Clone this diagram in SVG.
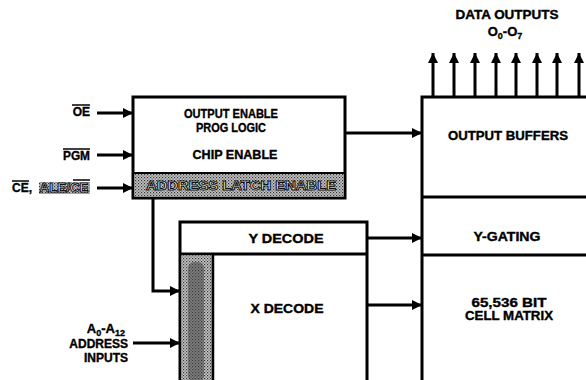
<svg xmlns="http://www.w3.org/2000/svg" width="586" height="380" viewBox="0 0 586 380">
<defs>
<pattern id="dots" width="3" height="3" patternUnits="userSpaceOnUse">
<rect width="3" height="3" fill="#c4c4c4"/>
<rect x="0" y="0" width="1.2" height="1.2" fill="#333"/>
<rect x="1.5" y="1.5" width="1.2" height="1.2" fill="#555"/>
</pattern>
<marker id="ah" viewBox="0 0 10 10" refX="10" refY="5" markerWidth="11" markerHeight="10" markerUnits="userSpaceOnUse" orient="auto">
<path d="M0,0 L10,5 L0,10 Z" fill="#000"/>
</marker>
</defs>
<style>
.t{font-family:"Liberation Sans",Arial,sans-serif;font-weight:bold;font-size:12px;fill:#000;stroke:#000;stroke-width:0.35;text-anchor:middle}
.l{font-family:"Liberation Sans",Arial,sans-serif;font-weight:bold;font-size:12px;fill:#000;stroke:#000;stroke-width:0.35;text-anchor:end}
.big{font-size:13px}
.sub{font-size:9px}
.box{fill:#fff;stroke:#000;stroke-width:3}
.c{fill:none;stroke:#000;stroke-width:3;marker-end:url(#ah)}
.ov{stroke:#000;stroke-width:1.5}
.hl{font-family:"Liberation Sans",Arial,sans-serif;font-weight:bold;font-size:12px;fill:#fff;stroke:#111;stroke-width:0.9;text-anchor:middle}
</style>
<rect width="586" height="380" fill="#fff"/>

<g id="control-logic">
<rect class="box" x="133" y="97" width="212" height="101"/>
<rect x="134.5" y="173" width="209" height="23.5" fill="url(#dots)"/>
<line x1="133" y1="173" x2="345" y2="173" stroke="#000" stroke-width="2"/>
<text class="t" x="231" y="118" textLength="94" lengthAdjust="spacingAndGlyphs">OUTPUT ENABLE</text>
<text class="t" x="231" y="132" textLength="70" lengthAdjust="spacingAndGlyphs">PROG LOGIC</text>
<text class="t" x="235" y="159" textLength="85" lengthAdjust="spacingAndGlyphs">CHIP ENABLE</text>
<text class="hl" x="241" y="190" textLength="190" lengthAdjust="spacingAndGlyphs">ADDRESS LATCH ENABLE</text>
</g>

<g id="decoders">
<rect class="box" x="180" y="222" width="187" height="170"/>
<line x1="180" y1="254" x2="367" y2="254" stroke="#000" stroke-width="3"/>
<rect x="181.5" y="255.5" width="31" height="130" fill="url(#dots)"/>
<rect x="188" y="262" width="16" height="120" rx="6" fill="#444" opacity="0.55"/>
<line x1="213" y1="254" x2="213" y2="380" stroke="#000" stroke-width="2.5"/>
<text class="t" x="286" y="243" textLength="75" lengthAdjust="spacingAndGlyphs">Y DECODE</text>
<text class="t" x="287" y="313" textLength="73" lengthAdjust="spacingAndGlyphs">X DECODE</text>
</g>

<g id="memory-array">
<rect class="box" x="422" y="97" width="180" height="300"/>
<line x1="422" y1="197" x2="586" y2="197" stroke="#000" stroke-width="3"/>
<line x1="422" y1="255" x2="586" y2="255" stroke="#000" stroke-width="3"/>
<text class="t" x="508" y="140" textLength="120" lengthAdjust="spacingAndGlyphs">OUTPUT BUFFERS</text>
<text class="t" x="507" y="241" textLength="67" lengthAdjust="spacingAndGlyphs">Y-GATING</text>
<text class="t" x="509" y="307" textLength="75" lengthAdjust="spacingAndGlyphs">65,536 BIT</text>
<text class="t" x="509" y="320" textLength="88" lengthAdjust="spacingAndGlyphs">CELL MATRIX</text>
</g>

<g id="labels">
<text class="t" x="507" y="19" textLength="103" lengthAdjust="spacingAndGlyphs">DATA OUTPUTS</text>
<text class="t big" x="505" y="36">O<tspan class="sub" dy="3">0</tspan><tspan dy="-3">-O</tspan><tspan class="sub" dy="3">7</tspan></text>
<text class="l" x="90" y="116">OE</text>
<line class="ov" x1="72" y1="105" x2="90" y2="105"/>
<text class="l" x="90" y="160" textLength="27" lengthAdjust="spacingAndGlyphs">PGM</text>
<line class="ov" x1="63" y1="149" x2="90" y2="149"/>
<text class="t" x="12" y="192" style="text-anchor:start">CE,</text>
<line class="ov" x1="12" y1="181" x2="29" y2="181"/>
<rect x="39" y="182" width="51" height="12" fill="url(#dots)"/>
<text class="hl" x="64" y="192" textLength="49" lengthAdjust="spacingAndGlyphs">ALE/CE</text>
<line class="ov" x1="73" y1="180" x2="90" y2="180"/>
<text class="l big" x="125" y="333">A<tspan class="sub" dy="3">0</tspan><tspan dy="-3">-A</tspan><tspan class="sub" dy="3">12</tspan></text>
<text class="l" x="128" y="348">ADDRESS</text>
<text class="l" x="128" y="362">INPUTS</text>
</g>

<g id="connectors">
<line class="c" x1="97" y1="113" x2="133" y2="113"/>
<line class="c" x1="97" y1="155" x2="133" y2="155"/>
<line class="c" x1="97" y1="188" x2="133" y2="188"/>
<polyline class="c" points="153,198 153,291 180,291"/>
<line class="c" x1="133" y1="343" x2="180" y2="343"/>
<line class="c" x1="345" y1="133" x2="422" y2="133"/>
<line class="c" x1="367" y1="238" x2="422" y2="238"/>
<line class="c" x1="367" y1="305" x2="422" y2="305"/>
<line class="c" x1="433" y1="97" x2="433" y2="53"/>
<line class="c" x1="454" y1="97" x2="454" y2="53"/>
<line class="c" x1="475" y1="97" x2="475" y2="53"/>
<line class="c" x1="496" y1="97" x2="496" y2="53"/>
<line class="c" x1="516" y1="97" x2="516" y2="53"/>
<line class="c" x1="537" y1="97" x2="537" y2="53"/>
<line class="c" x1="557" y1="97" x2="557" y2="53"/>
<line class="c" x1="579" y1="97" x2="579" y2="53"/>
</g>
</svg>
